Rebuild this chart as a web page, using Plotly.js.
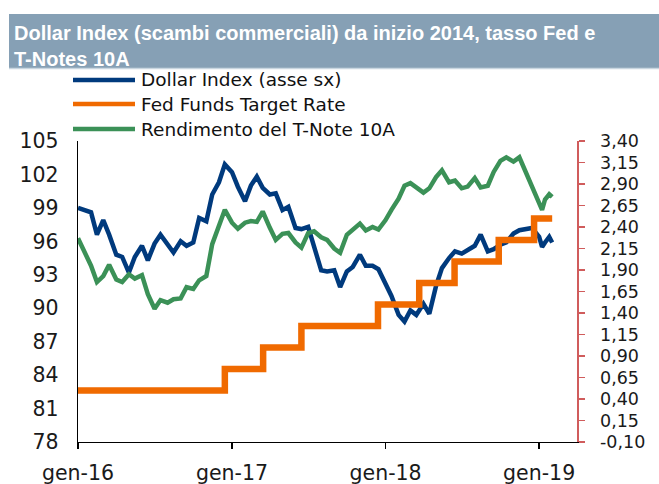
<!DOCTYPE html>
<html><head><meta charset="utf-8">
<script src="https://cdn.plot.ly/plotly-3.0.1.min.js"></script>
<style>html,body{margin:0;padding:0;background:#fff;} #chart{width:659px;height:484px;}</style>
</head><body><div id="chart"></div>
<script>
// ---- DATA ----
const dates = [
'2016-01-01','2016-01-15','2016-02-01','2016-02-15','2016-03-01','2016-03-15','2016-04-01','2016-04-15',
'2016-05-01','2016-05-15','2016-06-01','2016-06-15','2016-07-01','2016-07-15','2016-08-01','2016-08-15',
'2016-09-01','2016-09-15','2016-10-01','2016-10-15','2016-11-01','2016-11-15','2016-12-01','2016-12-15',
'2017-01-01','2017-01-15','2017-02-01','2017-02-15','2017-03-01','2017-03-15','2017-04-01','2017-04-15',
'2017-05-01','2017-05-15','2017-06-01','2017-06-15','2017-07-01','2017-07-15','2017-08-01','2017-08-15',
'2017-09-01','2017-09-15','2017-10-01','2017-10-15','2017-11-01','2017-11-15','2017-12-01','2017-12-15',
'2018-01-01','2018-01-15','2018-02-01','2018-02-15','2018-03-01','2018-03-15','2018-04-01','2018-04-15',
'2018-05-01','2018-05-15','2018-06-01','2018-06-15','2018-07-01','2018-07-15','2018-08-01','2018-08-15',
'2018-09-01','2018-09-15','2018-10-01','2018-10-15','2018-11-01','2018-11-15','2018-12-01','2018-12-15',
'2019-01-01','2019-01-08','2019-01-15','2019-01-25','2019-02-01'];
const dollarIndex = [
99.0,98.8,98.6,96.6,97.9,96.6,94.8,94.6,
93.2,94.6,95.6,94.3,95.8,96.6,95.8,95.0,
96.0,95.6,95.9,98.1,97.8,100.2,101.3,102.9,
102.2,100.9,99.6,101.0,101.8,100.8,100.2,100.3,
98.8,99.1,97.2,97.1,97.3,95.6,93.4,93.3,
93.4,91.9,93.3,93.7,94.8,93.8,93.8,93.5,
92.2,91.1,89.4,88.8,89.8,89.4,90.4,89.5,
92.0,93.6,94.5,95.1,94.9,95.2,95.6,96.6,
95.1,95.3,95.7,95.9,96.7,97.0,97.1,97.2,
96.4,95.5,95.9,96.4,95.9];
const tNote10y = [
2.27,2.12,1.95,1.76,1.83,1.96,1.79,1.76,
1.85,1.80,1.84,1.62,1.45,1.55,1.52,1.56,
1.57,1.70,1.68,1.78,1.83,2.20,2.43,2.60,
2.45,2.38,2.45,2.47,2.46,2.58,2.39,2.25,
2.32,2.33,2.22,2.16,2.33,2.35,2.28,2.25,
2.15,2.10,2.31,2.37,2.44,2.36,2.40,2.37,
2.48,2.60,2.73,2.88,2.91,2.86,2.80,2.85,
2.98,3.06,2.92,2.94,2.85,2.87,2.97,2.86,
2.88,3.04,3.17,3.21,3.16,3.21,3.02,2.88,
2.68,2.60,2.72,2.78,2.75];
const fedDates = ['2016-01-01','2016-12-15','2017-03-16','2017-06-15','2017-12-14','2018-03-22','2018-06-14','2018-09-27','2018-12-20','2019-02-01'];
const fedRate  = [0.50,0.75,1.00,1.25,1.50,1.75,2.00,2.25,2.50,2.50];
const xTickVals = ['2016-01-01','2017-01-01','2018-01-01','2019-01-01'];
const xTickText = ['gen-16','gen-17','gen-18','gen-19'];
const leftTicks = [78,81,84,87,90,93,96,99,102,105];
const rightTicks = [-0.10,0.15,0.40,0.65,0.90,1.15,1.40,1.65,1.90,2.15,2.40,2.65,2.90,3.15,3.40];
const seriesNames = ['Dollar Index (asse sx)','Fed Funds Target Rate','Rendimento del T-Note 10A'];
const titleText = 'Dollar Index (scambi commerciali) da inizio 2014, tasso Fed e<br>T-Notes 10A';

// ---- STYLE / LAYOUT ----
const W=659,H=484,L=78,R=82,T=141,B=42;
const pw=W-L-R, ph=H-T-B;
const px = x => (x-L)/pw;
const py = y => (H-B-y)/ph;
const colors = ['#003A7D','#F06A00','#3B9157'];
const axisRed = '#D05C5C';
const tickFont = {family:'DejaVu Sans', size:20.5, color:'#1a1a1a'};
const rightFont = {family:'DejaVu Sans', size:17.5, color:'#1a1a1a'};

const traces = [
  {x:dates, y:dollarIndex, name:seriesNames[0], type:'scatter', mode:'lines', yaxis:'y',
   line:{color:colors[0], width:4.5}},
  {x:fedDates, y:fedRate, name:seriesNames[1], type:'scatter', mode:'lines', yaxis:'y2',
   line:{color:colors[1], width:6.5, shape:'hv'}},
  {x:dates, y:tNote10y, name:seriesNames[2], type:'scatter', mode:'lines', yaxis:'y2',
   line:{color:colors[2], width:4.5}}
];

const legendY = [80,104,129];
const shapes = [
  {type:'rect', xref:'paper', yref:'paper', x0:px(9), x1:px(659), y0:py(68), y1:py(14),
   fillcolor:'#86A0B5', line:{width:0}, layer:'below'},
  {type:'line', xref:'paper', yref:'paper', x0:px(9), x1:px(659), y0:py(68.5), y1:py(68.5),
   line:{color:'#C9D6E0', width:1.5}}
];
const annotations = [];
seriesNames.forEach((n,i)=>{
  shapes.push({type:'line', xref:'paper', yref:'paper', x0:px(73), x1:px(135), y0:py(legendY[i]), y1:py(legendY[i]),
    line:{color:colors[i], width:4.5}});
  annotations.push({xref:'paper', yref:'paper', x:px(139), y:py(legendY[i]), xanchor:'left', yanchor:'middle',
    text:n, showarrow:false, font:{family:'DejaVu Sans', size:18.5, color:'#111'}});
});

const layout = {
  width:W, height:H, margin:{l:L, r:R, t:T, b:B, pad:0},
  paper_bgcolor:'#fff', plot_bgcolor:'#fff', showlegend:false, hovermode:false,
  title:{text:titleText, xref:'container', yref:'container', x:14/W, xanchor:'left',
         y:1-40/H, yanchor:'middle',
         font:{family:'Liberation Sans', size:20, color:'#fff', weight:'bold'}},
  xaxis:{type:'date', range:['2016-01-01','2019-04-01'], tickvals:xTickVals, ticktext:xTickText,
         showgrid:false, zeroline:false, showline:true, linecolor:'#000', linewidth:1.3,
         ticks:'outside', ticklen:6, tickcolor:'#000', tickwidth:1.3, tickfont:tickFont, ticklabelstandoff:6},
  yaxis:{range:[78,105], tickvals:leftTicks, ticktext:leftTicks.map(String),
         showgrid:false, zeroline:false, showline:true, linecolor:'#000', linewidth:1.3,
         ticks:'', tickfont:tickFont, ticklabelstandoff:14},
  yaxis2:{range:[-0.10,3.40], overlaying:'y', side:'right', tickvals:rightTicks,
          ticktext:rightTicks.map(v=>v.toFixed(2).replace('.',',')),
          showgrid:false, zeroline:false, showline:true, linecolor:axisRed, linewidth:1.5,
          ticks:'outside', ticklen:6, tickcolor:axisRed, tickwidth:1.5, tickfont:rightFont, ticklabelstandoff:12},
  shapes:shapes, annotations:annotations
};
Plotly.newPlot('chart', traces, layout, {staticPlot:true, displayModeBar:false});
</script></body></html>
